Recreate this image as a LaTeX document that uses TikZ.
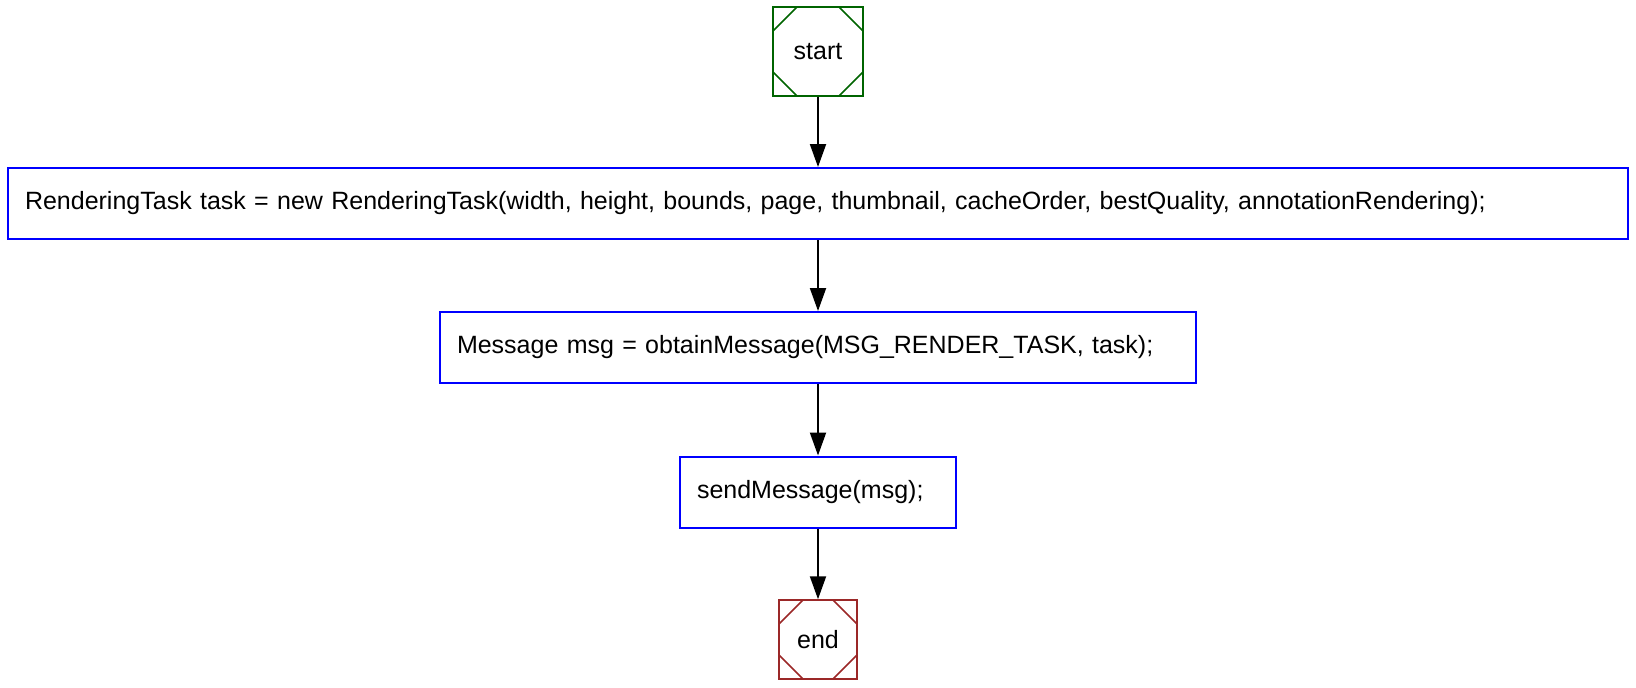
\documentclass[tikz,border=0pt]{standalone}
\usepackage{fontspec}
\setmainfont{Liberation Sans}
\usetikzlibrary{arrows.meta,calc}
\definecolor{startgreen}{RGB}{0,100,0}
\definecolor{endbrown}{RGB}{155,40,40}
\tikzset{
  codebox/.style={draw=blue, line width=2pt, minimum height=71pt, inner xsep=17pt, inner ysep=0pt,
    align=left, anchor=center, font=\fontsize{25}{29}\selectfont},
  termbox/.style={line width=1.5pt, minimum width=#1, inner sep=0pt, anchor=center,
    font=\fontsize{25}{29}\selectfont,
    path picture={
      \draw[line width=1.5pt] ([yshift=-24pt]path picture bounding box.north west) -- ([xshift=24pt]path picture bounding box.north west);
      \draw[line width=1.5pt] ([yshift=-24pt]path picture bounding box.north east) -- ([xshift=-24pt]path picture bounding box.north east);
      \draw[line width=1.5pt] ([yshift=24pt]path picture bounding box.south west) -- ([xshift=24pt]path picture bounding box.south west);
      \draw[line width=1.5pt] ([yshift=24pt]path picture bounding box.south east) -- ([xshift=-24pt]path picture bounding box.south east);
    }},
  flow/.style={-{Triangle[length=23pt,width=16pt]}, line width=2pt, black}
}
\begin{document}
\begin{tikzpicture}[x=1pt,y=-1pt]
\useasboundingbox (0,0) rectangle (1636,688);
\node[termbox=90pt, minimum height=89pt, draw=startgreen, color=startgreen, text=black] (start) at (818,51.5) {start};
\node[codebox, minimum width=1620pt, text width=1586pt] (t1) at (818,203.5) {RenderingTask task = new RenderingTask(width, height, bounds, page, thumbnail, cacheOrder, bestQuality, annotationRendering);};
\node[codebox, minimum width=756pt, text width=722pt] (t2) at (818,347.5) {Message msg = obtainMessage(MSG\_RENDER\_TASK, task);};
\node[codebox, minimum width=276pt, text width=242pt] (t3) at (818,492) {sendMessage(msg);};
\node[termbox=78pt, minimum height=79pt, draw=endbrown, color=endbrown, text=black] (end) at (818,639.5) {end};
\draw[flow] (start) -- (t1);
\draw[flow] (t1) -- (t2);
\draw[flow] (t2) -- (t3);
\draw[flow] (t3) -- (end);
\end{tikzpicture}
\end{document}
